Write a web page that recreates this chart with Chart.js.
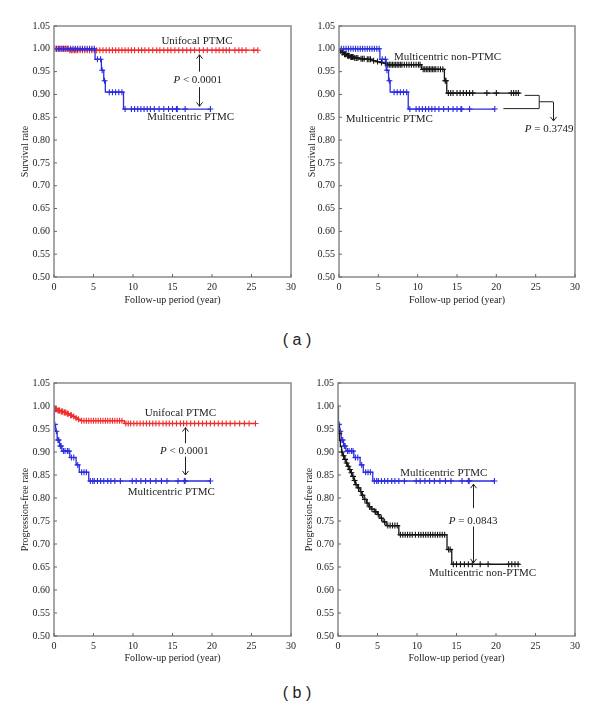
<!DOCTYPE html>
<html>
<head>
<meta charset="utf-8">
<script src="https://cdn.jsdelivr.net/npm/chart.js@4.4.1/dist/chart.umd.min.js"></script>
<style>
  body { margin: 0; background: #fff; width: 600px; height: 715px; position: relative; overflow: hidden; }
  canvas { position: absolute; }
  .tag { position: absolute; width: 80px; text-align: center; font-family: "Liberation Sans", Arial, sans-serif; font-size: 16px; color: #222; line-height: 20px; }
</style>
</head>
<body>
<canvas id="a1" width="300" height="320" style="left:0;top:0"></canvas>
<canvas id="a2" width="300" height="320" style="left:300px;top:0"></canvas>
<canvas id="b1" width="300" height="320" style="left:0;top:360px"></canvas>
<canvas id="b2" width="300" height="320" style="left:300px;top:360px"></canvas>
<div class="tag" style="left:257px;top:330px">( a )</div>
<div class="tag" style="left:257px;top:683px">( b )</div>
<script>
const xTicks = [0, 5, 10, 15, 20, 25, 30]
const yTicks = [0.50, 0.55, 0.60, 0.65, 0.70, 0.75, 0.80, 0.85, 0.90, 0.95, 1.00, 1.05]

const RED = '#f22a2a'
const BLUE = '#2b2be0'
const BLACK = '#151515'

// (a) overall survival
const uniA_t = [0, 1.8, 25.8]
const uniA_s = [1.000, 0.997, 0.997]
const uniA_c = [0.1, 0.3, 0.5, 0.7, 0.9, 1.1, 1.3, 1.5, 1.7, 2.0, 2.2, 2.4, 2.6, 2.8, 3.0, 3.3, 3.6, 3.9, 4.2, 4.5,
    4.8, 5.1, 5.4, 5.8, 6.2, 6.6, 7.0, 7.4, 7.8, 8.2, 8.6, 9.0, 9.4, 9.8, 10.2, 10.7, 11.1, 11.5, 12.0, 12.5, 13.0,
    13.4, 13.9, 14.4, 14.8, 15.3, 15.8, 16.3, 16.8, 17.3, 17.8, 18.4, 18.9, 19.4, 20.0, 20.5, 20.9, 21.4, 21.8,
    22.2, 22.9, 23.4, 23.8, 24.3, 25.3, 25.8]

const multiA_t = [0, 5.2, 6.0, 6.3, 6.5, 8.8, 19.8]
const multiA_s = [1.000, 0.977, 0.953, 0.930, 0.905, 0.868, 0.868]
const multiA_c = [0.3, 0.6, 0.9, 1.2, 1.5, 1.8, 2.1, 2.4, 2.7, 3.0, 3.3, 3.6, 3.9, 4.2, 4.5, 4.8, 5.1, 5.5, 5.9, 6.1,
    6.4, 7.0, 7.4, 7.8, 8.2, 8.6, 9.0, 9.8, 10.2, 10.6, 11.0, 11.4, 11.8, 12.2, 12.7, 13.3, 13.9, 14.5, 15.0, 15.5,
    15.6, 16.6, 19.8]

const nonA_t = [0, 0.1, 0.3, 0.6, 1.0, 1.4, 1.9, 2.6, 3.4, 4.2, 4.7, 5.2, 5.7, 6.0, 10.5, 13.4, 13.7, 23.0]
const nonA_s = [1.000, 0.996, 0.992, 0.988, 0.985, 0.982, 0.980, 0.978, 0.977, 0.974, 0.972, 0.970, 0.968, 0.965,
    0.955, 0.930, 0.903, 0.903]
const nonA_c = [0.2, 0.4, 0.5, 0.7, 0.8, 0.9, 1.1, 1.2, 1.3, 1.5, 1.6, 1.7, 1.8, 2.0, 2.2, 2.4, 2.8, 3.0, 3.2, 3.6,
    3.8, 4.0, 4.4, 4.9, 5.4, 5.9, 6.2, 6.4, 6.6, 6.8, 7.0, 7.2, 7.4, 7.6, 7.8, 8.0, 8.3, 8.6, 8.9, 9.2, 9.5, 9.8,
    10.1, 10.3, 10.7, 10.9, 11.1, 11.3, 11.5, 11.7, 11.9, 12.1, 12.3, 12.6, 12.9, 13.2, 13.5, 13.6, 13.9, 14.2,
    14.5, 15.0, 15.4, 15.8, 16.2, 16.6, 17.0, 18.8, 20.0, 21.9, 22.2, 22.5, 22.8]

// (b) progression-free
const uniB_t = [0, 0.05, 0.4, 0.8, 1.2, 1.6, 2.0, 2.4, 2.7, 3.0, 3.3, 8.9, 25.5]
const uniB_s = [1.000, 0.993, 0.990, 0.988, 0.986, 0.983, 0.980, 0.977, 0.974, 0.971, 0.968, 0.962, 0.962]
const uniB_c = [0.2, 0.3, 0.5, 0.6, 0.7, 0.9, 1.0, 1.1, 1.3, 1.4, 1.5, 1.7, 1.8, 2.1, 2.2, 2.5, 2.8, 3.1, 3.5, 3.8,
    4.1, 4.4, 4.7, 5.0, 5.3, 5.6, 5.9, 6.2, 6.5, 6.8, 7.1, 7.4, 7.7, 8.0, 8.3, 8.6, 9.1, 9.4, 9.7, 10.1, 10.5,
    10.9, 11.3, 11.7, 12.1, 12.5, 12.9, 13.3, 13.8, 14.2, 14.6, 15.0, 15.5, 16.0, 16.4, 16.8, 17.3, 17.8, 18.3,
    18.8, 19.3, 19.8, 20.3, 20.8, 21.3, 21.8, 22.3, 22.9, 23.5, 24.1, 24.7, 25.5]

const multiB_t = [0, 0.05, 0.2, 0.4, 0.7, 1.0, 2.0, 2.8, 3.2, 4.4, 19.8]
const multiB_s = [1.000, 0.960, 0.945, 0.926, 0.913, 0.902, 0.888, 0.872, 0.856, 0.837, 0.837]
const multiB_c = [0.1, 0.3, 0.5, 0.6, 0.8, 0.9, 1.2, 1.4, 1.7, 1.9, 2.2, 2.5, 3.0, 3.5, 3.8, 4.1, 4.6, 4.9, 5.1,
    5.5, 5.9, 6.3, 6.8, 7.2, 7.7, 8.4, 9.9, 10.4, 11.0, 11.6, 12.2, 12.9, 13.6, 14.3, 15.7, 16.5, 16.6, 19.8]

const nonB_t = [0, 0.05, 0.1, 0.2, 0.3, 0.45, 0.6, 0.8, 1.0, 1.2, 1.4, 1.6, 1.8, 2.0, 2.2, 2.5, 2.8, 3.0, 3.3,
    3.6, 3.9, 4.2, 4.6, 5.0, 5.3, 5.7, 6.1, 7.7, 13.8, 14.4, 23.0]
const nonB_s = [1.000, 0.965, 0.940, 0.925, 0.912, 0.900, 0.892, 0.884, 0.876, 0.869, 0.862, 0.855, 0.847, 0.838,
    0.829, 0.822, 0.814, 0.806, 0.797, 0.789, 0.781, 0.776, 0.770, 0.764, 0.756, 0.748, 0.740, 0.720, 0.688,
    0.656, 0.656]
const nonB_c = [0.15, 0.5, 0.7, 0.9, 1.1, 1.3, 1.5, 1.7, 1.9, 2.1, 2.3, 2.6, 2.9, 3.1, 3.4, 3.7, 4.0, 4.3, 4.7,
    4.8, 5.1, 5.5, 5.9, 6.3, 6.6, 6.9, 7.2, 7.5, 7.9, 8.2, 8.5, 8.8, 9.1, 9.4, 9.8, 10.2, 10.5, 10.8, 11.1, 11.4,
    11.7, 12.0, 12.3, 12.6, 12.9, 13.2, 13.5, 14.0, 14.2, 14.6, 15.0, 15.5, 16.0, 16.5, 17.0, 18.0, 19.0, 21.6,
    22.0, 22.4, 22.8]

function levelAt(ts, ss, x) {
    let v = ss[0]
    for (let i = 0; i < ts.length; i++) if (ts[i] <= x) v = ss[i]
    return v
}

function curveSets(ts, ss, cens, color) {
    return [{
        type: 'line',
        data: ts.map((t, i) => ({ x: t, y: ss[i] })),
        stepped: true,
        borderColor: color,
        borderWidth: 1.3,
        pointRadius: 0,
        fill: false
    }, {
        type: 'scatter',
        data: cens.map(t => ({ x: t, y: levelAt(ts, ss, t) })),
        pointStyle: 'cross',
        pointRadius: 3,
        borderWidth: 1.1,
        borderColor: color,
        backgroundColor: color
    }]
}

const SERIF = '"Liberation Serif", "Times New Roman", serif'

const notesPlugin = {
    id: 'kmNotes',
    afterDatasetsDraw(chart, args, o) {
        const { ctx, chartArea: a, scales: { x, y } } = chart
        const px = v => x.getPixelForValue(v)
        const py = v => y.getPixelForValue(v)
        ctx.save()
        ctx.strokeStyle = '#8a8a8a'
        ctx.lineWidth = 1.5
        ctx.strokeRect(a.left, a.top, a.right - a.left, a.bottom - a.top)
        ctx.lineWidth = 1
        ctx.strokeStyle = '#666'
        ctx.beginPath()
        y.ticks.forEach(t => { ctx.moveTo(a.left, py(t.value)); ctx.lineTo(a.left + 3, py(t.value)) })
        x.ticks.forEach(t => { ctx.moveTo(px(t.value), a.bottom); ctx.lineTo(px(t.value), a.bottom - 3) })
        ctx.stroke()

        ctx.strokeStyle = '#222'
        ctx.lineWidth = 1
        ;(o.lines || []).forEach(l => {
            ctx.beginPath()
            ctx.moveTo(px(l[0]), py(l[1]))
            ctx.lineTo(px(l[2]), py(l[3]))
            ctx.stroke()
        })
        ;(o.arrows || []).forEach(ar => {
            const ax = Math.round(px(ar.x)) + 0.5, y1 = py(ar.y1), y2 = py(ar.y2)
            const d = y2 > y1 ? -1 : 1
            ctx.beginPath()
            ctx.moveTo(ax, y1)
            ctx.lineTo(ax, y2)
            ctx.moveTo(ax - 3, y2 + d * 4)
            ctx.lineTo(ax, y2)
            ctx.lineTo(ax + 3, y2 + d * 4)
            ctx.stroke()
        })

        ctx.fillStyle = '#222'
        ctx.textBaseline = 'middle'
        ;(o.texts || []).forEach(t => {
            const cx = px(t.x), cy = py(t.y)
            if (t.p) {
                ctx.font = 'italic 11px ' + SERIF
                const w1 = ctx.measureText('P').width
                ctx.font = '11px ' + SERIF
                const w2 = ctx.measureText(t.text).width
                const sx = cx - (w1 + w2) / 2
                ctx.textAlign = 'left'
                ctx.font = 'italic 11px ' + SERIF
                ctx.fillText('P', sx, cy)
                ctx.font = '11px ' + SERIF
                ctx.fillText(t.text, sx + w1, cy)
            } else {
                ctx.font = '11px ' + SERIF
                ctx.textAlign = 'center'
                ctx.fillText(t.text, cx, cy)
            }
        })
        ctx.restore()
    }
}

function makeChart(id, cfg) {
    return new Chart(document.getElementById(id), {
        type: 'scatter',
        data: { datasets: cfg.datasets },
        options: {
            responsive: false,
            animation: false,
            devicePixelRatio: 1,
            layout: { padding: { left: 0, top: cfg.top, right: cfg.right, bottom: 0 } },
            plugins: {
                legend: { display: false },
                tooltip: { enabled: false },
                kmNotes: cfg.notes
            },
            scales: {
                x: {
                    type: 'linear', min: 0, max: 30,
                    afterBuildTicks: s => { s.ticks = xTicks.map(v => ({ value: v })) },
                    afterFit: s => { s.height = cfg.xh },
                    grid: { display: false, drawTicks: false },
                    border: { display: false },
                    ticks: { color: '#222', padding: 4, font: { family: SERIF, size: 10 }, maxRotation: 0 },
                    title: { display: true, text: 'Follow-up period (year)', color: '#222',
                        font: { family: SERIF, size: 10 }, padding: { top: 0, bottom: cfg.xtp } }
                },
                y: {
                    type: 'linear', min: 0.5, max: 1.05,
                    afterBuildTicks: s => { s.ticks = yTicks.map(v => ({ value: v })) },
                    afterFit: s => { s.width = cfg.yw },
                    grid: { display: false, drawTicks: false },
                    border: { display: false },
                    ticks: { color: '#222', padding: 4, font: { family: SERIF, size: 10 },
                        callback: v => Number(v).toFixed(2) },
                    title: { display: true, text: cfg.ytitle, color: '#222',
                        font: { family: SERIF, size: 10 }, padding: { top: cfg.ytp, bottom: 0 } }
                }
            }
        },
        plugins: [notesPlugin]
    })
}

makeChart('a1', {
    top: 26, right: 9, xh: 43, yw: 54, xtp: 14, ytp: 19, ytitle: 'Survival rate',
    datasets: [...curveSets(multiA_t, multiA_s, multiA_c, BLUE), ...curveSets(uniA_t, uniA_s, uniA_c, RED)],
    notes: {
        texts: [
            { x: 18.1, y: 1.016, text: 'Unifocal PTMC' },
            { x: 18.2, y: 0.931, text: ' < 0.0001', p: true },
            { x: 17.3, y: 0.851, text: 'Multicentric PTMC' }
        ],
        arrows: [{ x: 18.35, y1: 0.950, y2: 0.987 }, { x: 18.35, y1: 0.916, y2: 0.874 }]
    }
})

makeChart('a2', {
    top: 26, right: 25, xh: 43, yw: 39, xtp: 14, ytp: 6, ytitle: 'Survival rate',
    datasets: [...curveSets(multiA_t, multiA_s, multiA_c, BLUE), ...curveSets(nonA_t, nonA_s, nonA_c, BLACK)],
    notes: {
        texts: [
            { x: 13.8, y: 0.982, text: 'Multicentric non-PTMC' },
            { x: 6.4, y: 0.846, text: 'Multicentric PTMC' },
            { x: 26.7, y: 0.823, text: ' = 0.3749', p: true }
        ],
        lines: [
            [23.6, 0.898, 25.45, 0.898],
            [20.9, 0.869, 25.45, 0.869],
            [25.45, 0.898, 25.45, 0.869],
            [25.45, 0.884, 27.2, 0.884]
        ],
        arrows: [{ x: 27.2, y1: 0.884, y2: 0.842 }]
    }
})

makeChart('b1', {
    top: 23, right: 9, xh: 44, yw: 54, xtp: 16, ytp: 19, ytitle: 'Progression-free rate',
    datasets: [...curveSets(multiB_t, multiB_s, multiB_c, BLUE), ...curveSets(uniB_t, uniB_s, uniB_c, RED)],
    notes: {
        texts: [
            { x: 16.0, y: 0.984, text: 'Unifocal PTMC' },
            { x: 16.5, y: 0.901, text: ' < 0.0001', p: true },
            { x: 14.85, y: 0.812, text: 'Multicentric PTMC' }
        ],
        arrows: [{ x: 16.6, y1: 0.919, y2: 0.953 }, { x: 16.6, y1: 0.890, y2: 0.850 }]
    }
})

makeChart('b2', {
    top: 23, right: 25, xh: 44, yw: 38, xtp: 16, ytp: 3, ytitle: 'Progression-free rate',
    datasets: [...curveSets(nonB_t, nonB_s, nonB_c, BLACK), ...curveSets(multiB_t, multiB_s, multiB_c, BLUE)],
    notes: {
        texts: [
            { x: 13.4, y: 0.855, text: 'Multicentric PTMC' },
            { x: 17.1, y: 0.750, text: ' = 0.0843', p: true },
            { x: 18.3, y: 0.636, text: 'Multicentric non-PTMC' }
        ],
        arrows: [{ x: 17.1, y1: 0.778, y2: 0.830 }, { x: 17.1, y1: 0.738, y2: 0.659 }]
    }
})
</script>
</body>
</html>
